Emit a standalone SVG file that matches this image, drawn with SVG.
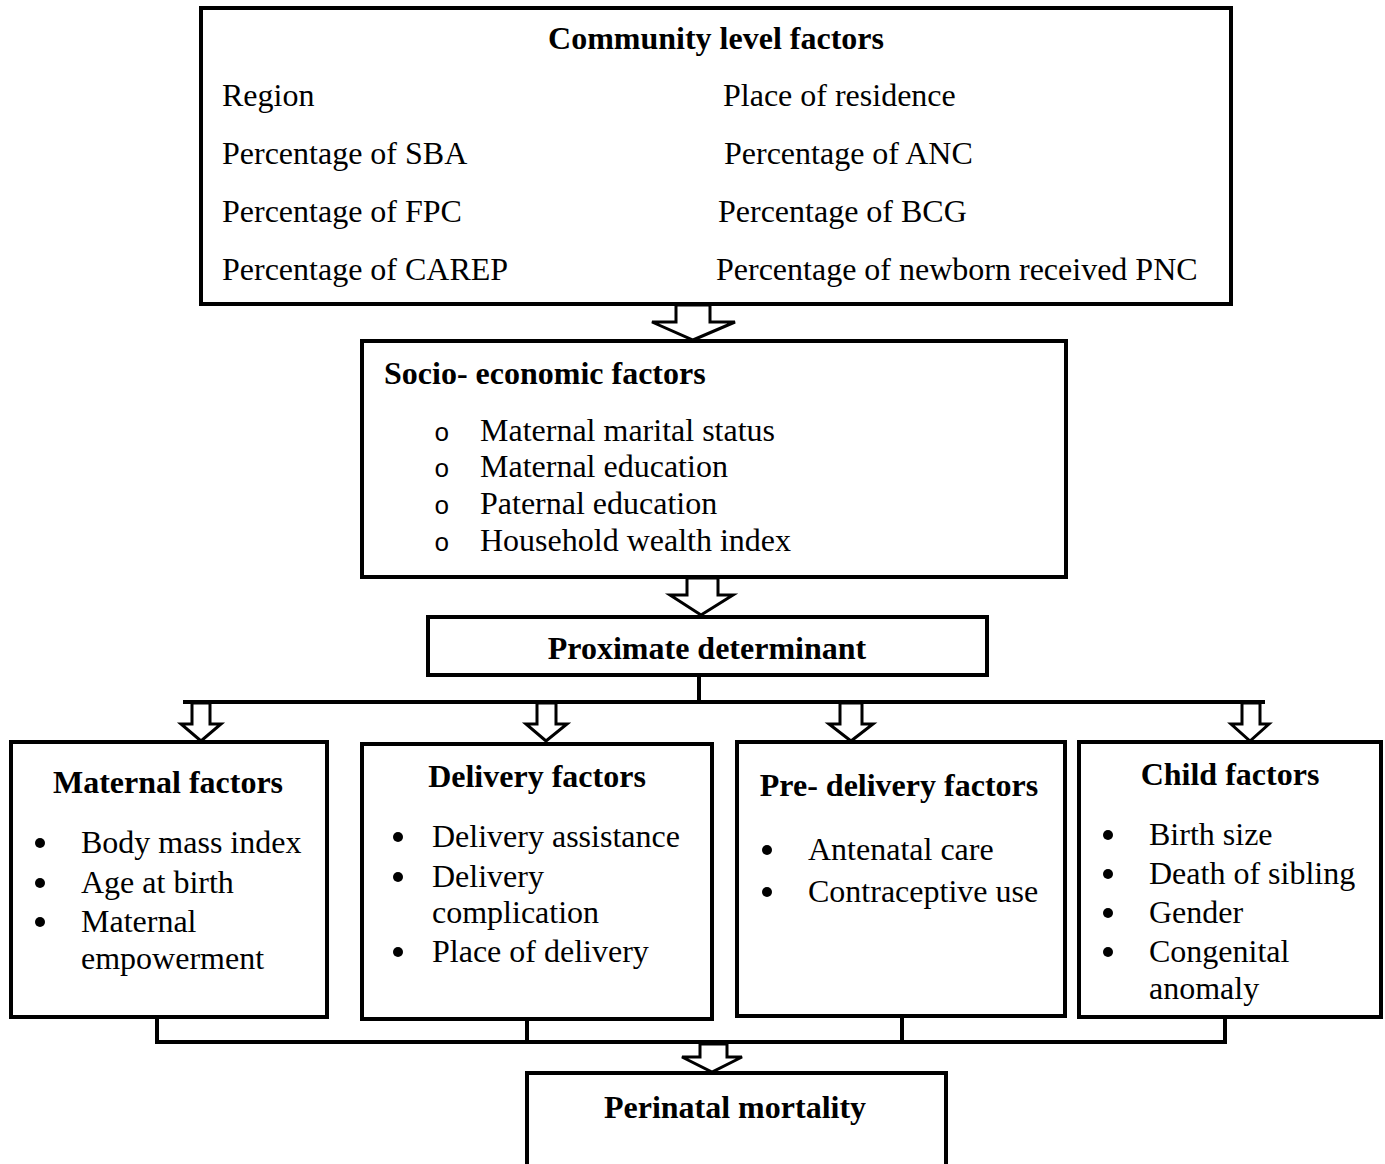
<svg xmlns="http://www.w3.org/2000/svg" width="1385" height="1164" viewBox="0 0 1385 1164">
<style>
.box{fill:#fff;stroke:#000;stroke-width:4}
.ln{fill:none;stroke:#000;stroke-width:4}
.arr{fill:#fff;stroke:#000;stroke-width:3;stroke-linejoin:miter}
.b{fill:#000}
text{font-family:"Liberation Serif","Times New Roman",serif;font-size:32px;fill:#000}
.t{font-weight:bold;text-anchor:middle}
.o{font-family:"Liberation Mono","Courier New",monospace;font-size:26px}
</style>
<rect width="1385" height="1164" fill="#fff"/>
<g id="connectors">
<polygon class="arr" points="676,305 710,305 710,322 735,322 693,340 652,322 676,322"/>
<polygon class="arr" points="687,578 718,578 718,595 733,595 701,615 670,595 687,595"/>
<line class="ln" x1="699" y1="675" x2="699" y2="702"/>
<line class="ln" x1="183" y1="702" x2="1265" y2="702"/>
<polygon class="arr" points="192,703 210,703 210,724 221,724 201,741 181,724 192,724"/>
<polygon class="arr" points="537,703 556,703 556,724 567,724 546,741 526,724 537,724"/>
<polygon class="arr" points="840,703 862,703 862,724 873,724 851,741 829,724 840,724"/>
<polygon class="arr" points="1242,703 1260,703 1260,724 1269,724 1250,741 1231,724 1242,724"/>
<polyline class="ln" points="157,1017 157,1042 1225,1042 1225,1017"/>
<line class="ln" x1="527" y1="1019" x2="527" y2="1042"/>
<line class="ln" x1="902" y1="1016" x2="902" y2="1042"/>
<polygon class="arr" points="700,1044 727,1044 727,1057 742,1057 712,1072 682,1057 700,1057"/>
</g>
<g id="community">
<rect class="box" x="201" y="8" width="1030" height="296"/>
<text class="t" x="716" y="49">Community level factors</text>
<text x="222" y="106">Region</text>
<text x="222" y="164">Percentage of SBA</text>
<text x="222" y="222">Percentage of FPC</text>
<text x="222" y="280">Percentage of CAREP</text>
<text x="723" y="106">Place of residence</text>
<text x="724" y="164">Percentage of ANC</text>
<text x="718" y="222">Percentage of BCG</text>
<text x="716" y="280">Percentage of newborn received PNC</text>
</g>
<g id="socio">
<rect class="box" x="362" y="341" width="704" height="236"/>
<text x="384" y="384" font-weight="bold">Socio- economic factors</text>
<text class="o" x="434" y="441">o</text>
<text class="o" x="434" y="477">o</text>
<text class="o" x="434" y="514">o</text>
<text class="o" x="434" y="551">o</text>
<text x="480" y="441">Maternal marital status</text>
<text x="480" y="477">Maternal education</text>
<text x="480" y="514">Paternal education</text>
<text x="480" y="551">Household wealth index</text>
</g>
<g id="proximate">
<rect class="box" x="428" y="617" width="559" height="58"/>
<text class="t" x="707" y="659">Proximate determinant</text>
</g>
<g id="maternal">
<rect class="box" x="11" y="742" width="316" height="275"/>
<text class="t" x="168" y="793">Maternal factors</text>
<circle class="b" cx="40" cy="843" r="5"/>
<circle class="b" cx="40" cy="883" r="5"/>
<circle class="b" cx="40" cy="922" r="5"/>
<text x="81" y="853">Body mass index</text>
<text x="81" y="893">Age at birth</text>
<text x="81" y="932">Maternal</text>
<text x="81" y="969">empowerment</text>
</g>
<g id="delivery">
<rect class="box" x="362" y="744" width="350" height="275"/>
<text class="t" x="537" y="787">Delivery factors</text>
<circle class="b" cx="398" cy="837" r="5"/>
<circle class="b" cx="398" cy="877" r="5"/>
<circle class="b" cx="398" cy="952" r="5"/>
<text x="432" y="847">Delivery assistance</text>
<text x="432" y="887">Delivery</text>
<text x="432" y="923">complication</text>
<text x="432" y="962">Place of delivery</text>
</g>
<g id="predelivery">
<rect class="box" x="737" y="742" width="328" height="274"/>
<text class="t" x="899" y="796">Pre- delivery factors</text>
<circle class="b" cx="767" cy="850" r="5"/>
<circle class="b" cx="767" cy="892" r="5"/>
<text x="808" y="860">Antenatal care</text>
<text x="808" y="902">Contraceptive use</text>
</g>
<g id="child">
<rect class="box" x="1079" y="742" width="302" height="275"/>
<text class="t" x="1230" y="785">Child factors</text>
<circle class="b" cx="1108" cy="835" r="5"/>
<circle class="b" cx="1108" cy="874" r="5"/>
<circle class="b" cx="1108" cy="913" r="5"/>
<circle class="b" cx="1108" cy="952" r="5"/>
<text x="1149" y="845">Birth size</text>
<text x="1149" y="884">Death of sibling</text>
<text x="1149" y="923">Gender</text>
<text x="1149" y="962">Congenital</text>
<text x="1149" y="999">anomaly</text>
</g>
<g id="perinatal">
<rect class="box" x="527" y="1073" width="419" height="120"/>
<text class="t" x="735" y="1118">Perinatal mortality</text>
</g>
</svg>
